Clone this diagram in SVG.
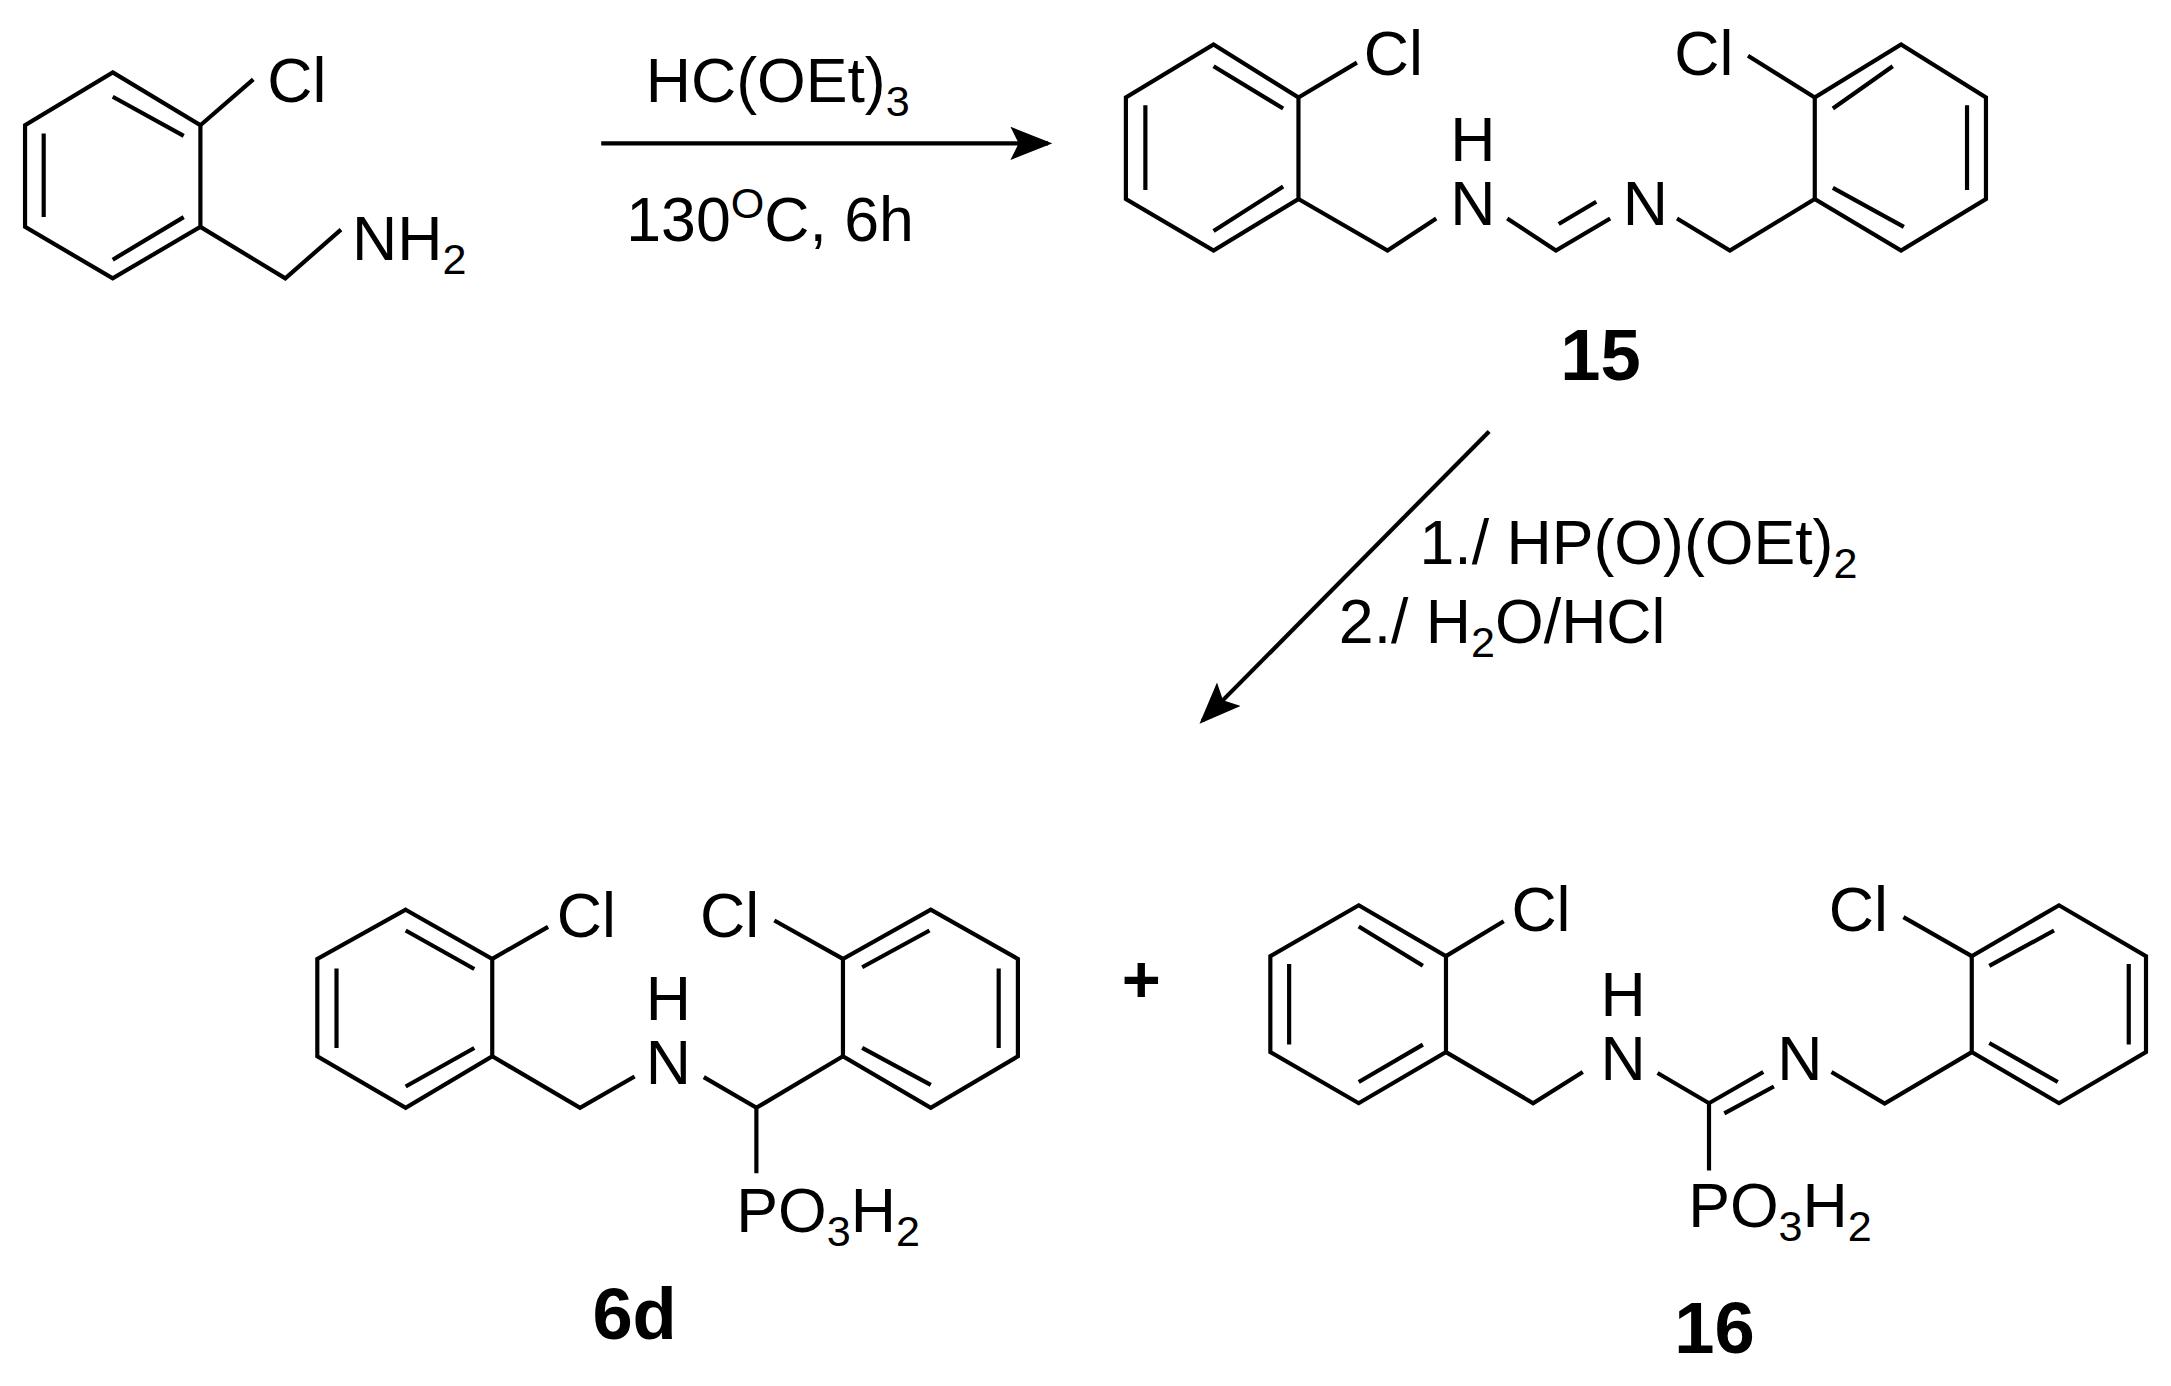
<svg xmlns="http://www.w3.org/2000/svg" width="2171" height="1386" viewBox="0 0 2171 1386">
<style>
.b{fill:none;stroke:#000;stroke-width:3;stroke-linejoin:miter;stroke-linecap:butt}
text{font-family:"Liberation Sans",Arial,sans-serif;font-size:45px;fill:#000}
.s{font-size:31px}
.lbl{font-weight:bold;font-size:52px;text-anchor:middle}
</style>
<defs>
<marker id="ah" markerWidth="10" markerHeight="8" refX="9" refY="4" orient="auto" markerUnits="strokeWidth">
<path d="M0,0 L10,4 L0,8 L2,4 Z" fill="#000"/>
</marker>
</defs>
<rect width="2171" height="1386" fill="#fff"/>
<g transform="scale(1.3917)">
<g id="amine">
<path class="b" d="M81,52 L144,90 L144,163 L81,200 L18,163 L18,90 Z"/>
<path class="b" d="M81,69.5 L132,97.6 M31.4,96 L31.4,156 M81,186.6 L132,156"/>
<path class="b" d="M144,90 L182,57 M144,163 L205,200 L245,165"/>
<text x="192" y="73">Cl</text>
<text x="253" y="187">NH<tspan class="s" dy="10">2</tspan></text>
</g>
<g id="cmp15">
<path class="b" d="M872,32 L933,70 L933,143 L872,180 L809,143 L809,70 Z"/>
<path class="b" d="M872,47.6 L922,78 M823,75.6 L823,136.6 M872,166 L922,134"/>
<path class="b" d="M933,70 L975,45 M933,143 L997,180 L1032,157 M1083,157 L1118,180 L1157,157 M1120,161 L1147,145 M1205,157 L1243,180 L1304,143"/>
<path class="b" d="M1304,143 L1304,70 L1366,32 L1427,70 L1427,143 L1366,180 Z"/>
<path class="b" d="M1317,78 L1360,47.6 M1413.4,75.6 L1413.4,136.6 M1317,135 L1368,163"/>
<path class="b" d="M1304,70 L1256,40"/>
<text x="980" y="54">Cl</text>
<text x="1203" y="54">Cl</text>
<text x="1042" y="116">H</text>
<text x="1042" y="162">N</text>
<text x="1166" y="162">N</text>
<text class="lbl" x="1150" y="273">15</text>
</g>
<g id="cmp6d">
<path class="b" d="M291.5,653.7 L353.7,689 L353.7,759 L291.5,796 L228,759 L228,689 Z"/>
<path class="b" d="M291.5,668.6 L340.8,696.3 M241.8,696 L241.8,753 M291.5,780.7 L340.8,753"/>
<path class="b" d="M353.7,689 L393.8,666 M353.7,759 L416.8,796 L456,773.5 M505.7,774 L543.5,796 L543.5,843 M543.5,796 L605.7,759"/>
<path class="b" d="M605.7,759 L605.7,689 L668.8,653.7 L731.4,689 L731.4,759 L668.8,796 Z"/>
<path class="b" d="M619.5,695 L667.9,668.6 M717.6,696 L717.6,753 M619.5,753 L668.8,779.5"/>
<path class="b" d="M605.7,689 L556.4,661.4"/>
<text x="400" y="673">Cl</text>
<text x="503" y="673">Cl</text>
<text x="464" y="733">H</text>
<text x="464" y="779">N</text>
<text x="529" y="885">PO<tspan class="s" dy="10">3</tspan><tspan dy="-10">H</tspan><tspan class="s" dy="10">2</tspan></text>
<text class="lbl" x="456" y="962">6d</text>
</g>
<g id="plus"><text x="820" y="720" text-anchor="middle" style="font-weight:bold;font-size:48px">+</text></g>
<g id="cmp16">
<path class="b" d="M976.3,650.5 L1039,687 L1039,756 L976.3,792.7 L912.8,756 L912.8,687 Z"/>
<path class="b" d="M976.3,665.7 L1022.4,694 M926.3,692.7 L926.3,750.6 M976.3,777.5 L1022.4,750.6"/>
<path class="b" d="M1039,687 L1080.5,662 M1039,756 L1101.6,792.7 L1137.3,770.3 M1191,771 L1228,792.7 L1267,770.3 M1239,800 L1274.6,780.7 M1228,792.7 L1228,841 M1316,770.3 L1354.2,793 L1416.8,756"/>
<path class="b" d="M1416.8,756 L1416.8,687 L1479.5,650.5 L1542,687 L1542,756 L1479.5,792.7 Z"/>
<path class="b" d="M1429.4,694 L1475.9,668.6 M1529.6,692.7 L1529.6,750.6 M1429.4,749.4 L1478.6,777.5"/>
<path class="b" d="M1416.8,687 L1367.7,659"/>
<text x="1086" y="669">Cl</text>
<text x="1314" y="669">Cl</text>
<text x="1150" y="730">H</text>
<text x="1150" y="776">N</text>
<text x="1277" y="776">N</text>
<text x="1213" y="882">PO<tspan class="s" dy="10">3</tspan><tspan dy="-10">H</tspan><tspan class="s" dy="10">2</tspan></text>
<text class="lbl" x="1232" y="972">16</text>
</g>
<g id="connectors">
<line class="b" x1="432" y1="103" x2="753" y2="103" marker-end="url(#ah)"/>
<line class="b" x1="1070" y1="310" x2="864" y2="518" marker-end="url(#ah)"/>
<text x="464" y="73">HC(OEt)<tspan class="s" dy="10">3</tspan></text>
<text x="450" y="173">130<tspan class="s" dy="-16">O</tspan><tspan dy="16">C, 6h</tspan></text>
<text x="1020" y="405">1./ HP(O)(OEt)<tspan class="s" dy="10">2</tspan></text>
<text x="962" y="462">2./ H<tspan class="s" dy="10">2</tspan><tspan dy="-10">O/HCl</tspan></text>
</g>
</g>
</svg>
